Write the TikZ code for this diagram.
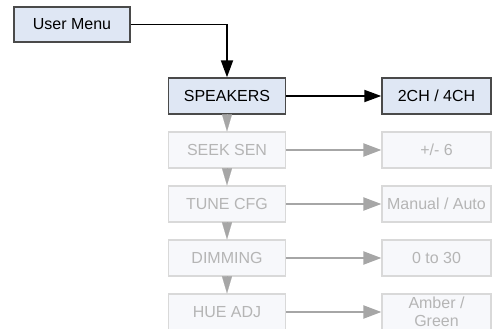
\documentclass[tikz,border=0pt]{standalone}
\usepackage{fontspec}
\setmainfont{Liberation Sans}
\usepackage{tikz}
\usetikzlibrary{arrows.meta,positioning}

\definecolor{boxblue}{HTML}{DFE7F4}
\definecolor{boxline}{HTML}{4A4A4A}
\definecolor{dimfill}{HTML}{F7F8FB}
\definecolor{dimline}{HTML}{D9D9D9}
\definecolor{dimtext}{HTML}{B5B5B5}
\definecolor{dimarrow}{HTML}{A6A6A6}

\begin{document}
\begin{tikzpicture}[
            every node/.style={rectangle, draw, inner sep=0pt, align=center,
                               font=\fontsize{9.1}{10.2}\selectfont},
            activebox/.style={fill=boxblue, draw=boxline, line width=0.8pt, text=black},
            dimbox/.style={fill=dimfill, draw=dimline, line width=0.7pt, text=dimtext},
            leftbox/.style={minimum width=2.34cm, minimum height=0.72cm},
            rightbox/.style={minimum width=2.18cm, minimum height=0.72cm},
            blackarrow/.style={color=black, line width=1.1pt,
                               -{Triangle[length=0.34cm, width=0.24cm]}},
            grayarrow/.style={color=dimarrow, line width=1.2pt,
                              -{Triangle[length=0.36cm, width=0.26cm]}},
            graytip/.style={color=dimarrow, line width=0.1pt,
                            -{Triangle[length=0.34cm, width=0.2cm]}}]
            \useasboundingbox (0,0) rectangle (9.84,-6.58);
            \node[activebox, minimum width=2.32cm, minimum height=0.7cm] (user) at (1.44,-0.49) {User Menu};
            \node[activebox, leftbox]  (spk)  at (4.54,-1.92) {SPEAKERS};
            \node[activebox, rightbox] (ch)   at (8.73,-1.92) {2CH / 4CH};
            \node[dimbox, leftbox]     (seek) at (4.54,-3.00) {SEEK SEN};
            \node[dimbox, rightbox]    (pm)   at (8.73,-3.00) {+/- 6};
            \node[dimbox, leftbox]     (tune) at (4.54,-4.08) {TUNE CFG};
            \node[dimbox, rightbox]    (man)  at (8.73,-4.08) {Manual / Auto};
            \node[dimbox, leftbox]     (dim)  at (4.54,-5.16) {DIMMING};
            \node[dimbox, rightbox]    (rng)  at (8.73,-5.16) {0 to 30};
            \node[dimbox, leftbox]     (hue)  at (4.54,-6.24) {HUE ADJ};
            \node[dimbox, rightbox]    (amb)  at (8.73,-6.24) {Amber /\\Green};
            \draw[blackarrow] (user) -| (spk);
            \draw[blackarrow] (spk) -- (ch);
            \draw[grayarrow] (seek) -- (pm);
            \draw[grayarrow] (tune) -- (man);
            \draw[grayarrow] (dim) -- (rng);
            \draw[grayarrow] (hue) -- (amb);
            \draw[graytip] (spk) -- (seek);
            \draw[graytip] (seek) -- (tune);
            \draw[graytip] (tune) -- (dim);
            \draw[graytip] (dim) -- (hue);
        \end{tikzpicture}
\end{document}
